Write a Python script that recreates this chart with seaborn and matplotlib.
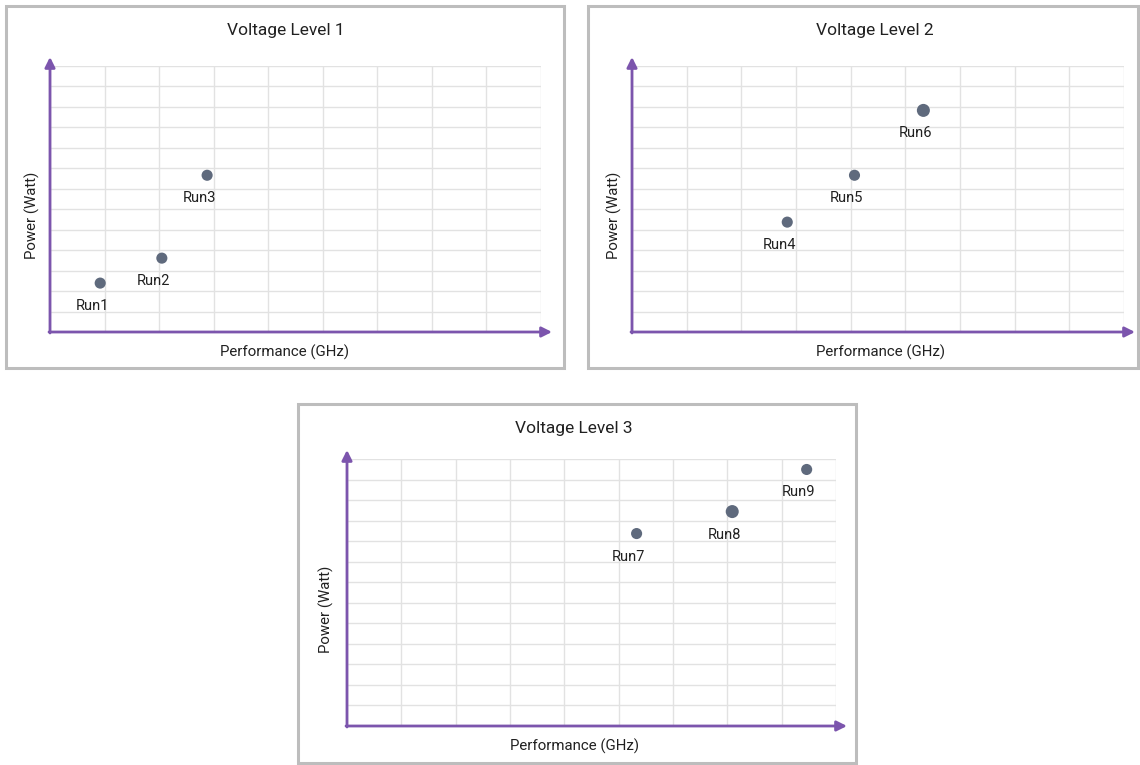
import numpy as np
import pandas as pd
import matplotlib.pyplot as plt
import seaborn as sns
from matplotlib.patches import Rectangle

# ─── Data (grid units: x 0-9, y 0-13) ─────────────────────
titles = ['Voltage Level 1', 'Voltage Level 2', 'Voltage Level 3']
runs_1 = ['Run1', 'Run2', 'Run3']
perf_1 = [0.92, 2.05, 2.88]
power_1 = [2.39, 3.61, 7.66]
runs_2 = ['Run4', 'Run5', 'Run6']
perf_2 = [2.84, 4.07, 5.33]
power_2 = [5.37, 7.66, 10.83]
runs_3 = ['Run7', 'Run8', 'Run9']
perf_3 = [5.33, 7.09, 8.46]
power_3 = [9.37, 10.44, 12.49]
# marker size class (a couple of dots are drawn slightly larger)
size_1 = ['n', 'n', 'n']
size_2 = ['n', 'n', 'l']
size_3 = ['n', 'l', 'n']

W, H = 1140, 765
PURPLE = '#7c55ad'
DOT = '#5f6a7d'
TXT = '#212121'

sns.set_theme(style='white')
plt.rcParams['font.family'] = ['Roboto', 'DejaVu Sans']

fig = plt.figure(figsize=(W / 100, H / 100), dpi=100)


def fx(x):
    return x / W


def fy(y):
    return 1 - y / H


# panel layout in pixels: box, plot area, title/label positions
panels = [
    dict(box=(6, 6, 564, 368), area=(50, 66, 541, 332), title=(286, 30),
         xlab=(285, 352), ylab=(32, 215)),
    dict(box=(588, 6, 1138, 368), area=(632, 66, 1124, 332), title=(875, 30),
         xlab=(880, 352), ylab=(614, 215)),
    dict(box=(298, 404, 856, 763), area=(347, 459, 836, 726), title=(574, 428),
         xlab=(574, 746), ylab=(326, 609)),
]
series = [(runs_1, perf_1, power_1, size_1),
          (runs_2, perf_2, power_2, size_2),
          (runs_3, perf_3, power_3, size_3)]

for p, title, (runs, perf, power, sz) in zip(panels, titles, series):
    bx0, by0, bx1, by1 = p['box']
    fig.add_artist(Rectangle((fx(bx0), fy(by1)), (bx1 - bx0) / W, (by1 - by0) / H,
                             transform=fig.transFigure, fill=False,
                             edgecolor='#bdbdbd', linewidth=2.2))
    x0, y0, x1, y1 = p['area']
    ax = fig.add_axes([fx(x0), fy(y1), (x1 - x0) / W, (y1 - y0) / H])

    df = pd.DataFrame({'run': runs, 'perf': perf, 'power': power, 'sz': sz})
    sns.scatterplot(data=df, x='perf', y='power', size='sz',
                    sizes={'n': 64, 'l': 88}, color=DOT, edgecolor='none',
                    legend=False, ax=ax, zorder=5)
    for _, r in df.iterrows():
        ax.annotate(r['run'], (r['perf'], r['power']), xytext=(-8, -23),
                    textcoords='offset pixels', ha='center', va='center',
                    fontsize=10.5, color=TXT)

    ax.set_xlim(0, 9)
    ax.set_ylim(0, 13)
    ax.set_xticks(np.arange(0, 10))
    ax.set_yticks(np.arange(0, 14))
    ax.set_xticklabels([])
    ax.set_yticklabels([])
    ax.tick_params(length=0)
    ax.grid(True, color='#e2e2e2', linewidth=1)
    ax.set_xlabel('')
    ax.set_ylabel('')
    for s in ax.spines.values():
        s.set_visible(False)

    # axis lines with arrow heads
    ax.annotate('', xy=(1 + 11 / (x1 - x0), 0), xytext=(-1 / (x1 - x0), 0),
                xycoords='axes fraction',
                arrowprops=dict(arrowstyle='-|>', color=PURPLE, lw=2,
                                mutation_scale=15, shrinkA=0, shrinkB=0))
    ax.annotate('', xy=(0, 1 + 9 / (y1 - y0)), xytext=(0, -1 / (y1 - y0)),
                xycoords='axes fraction',
                arrowprops=dict(arrowstyle='-|>', color=PURPLE, lw=2,
                                mutation_scale=15, shrinkA=0, shrinkB=0))

    fig.text(fx(p['title'][0]), fy(p['title'][1]), title, ha='center',
             va='center', fontsize=12.5, color=TXT)
    fig.text(fx(p['xlab'][0]), fy(p['xlab'][1]), 'Performance (GHz)',
             ha='center', va='center', fontsize=10.8, color=TXT)
    fig.text(fx(p['ylab'][0]), fy(p['ylab'][1]), 'Power (Watt)', rotation=90,
             ha='center', va='center', fontsize=10.8, color=TXT)

plt.savefig('out.png', dpi=100)
